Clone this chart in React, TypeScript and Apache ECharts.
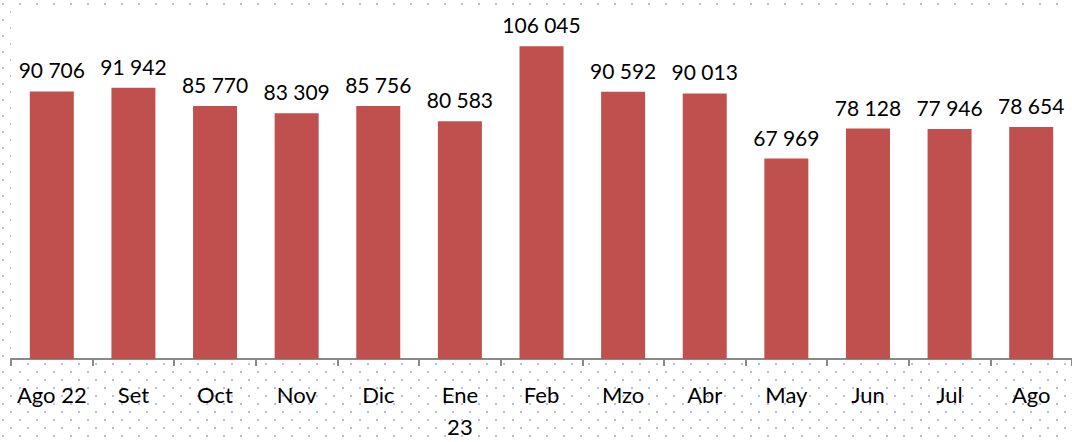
import React, { useEffect, useRef } from "react";
import * as echarts from "echarts";

const categories = ["Ago 22", "Set", "Oct", "Nov", "Dic", "Ene\n23", "Feb", "Mzo", "Abr", "May", "Jun", "Jul", "Ago"];
const values = [90706, 91942, 85770, 83309, 85756, 80583, 106045, 90592, 90013, 67969, 78128, 77946, 78654];

const dotSvg =
  "data:image/svg+xml;utf8," +
  encodeURIComponent(
    '<svg xmlns="http://www.w3.org/2000/svg" width="17" height="16"><rect x="2" y="3" width="2" height="2" fill="#b9c1e8"/><rect x="10" y="11" width="2" height="2" fill="#b9c1e8"/></svg>'
  );

const fmt = (v: number) => String(v).replace(/\B(?=(\d{3})+(?!\d))/g, " ");

export default function App() {
  const ref = useRef<HTMLDivElement>(null);
  useEffect(() => {
    if (!ref.current) return;
    const chart = echarts.init(ref.current, undefined, { renderer: "svg" });
    chart.setOption({
      animation: false,
      backgroundColor: "transparent",
      grid: {
        show: true,
        backgroundColor: "#ffffff",
        borderWidth: 0,
        left: 11,
        right: -6,
        top: 8,
        bottom: 76,
        containLabel: false,
      },
      xAxis: {
        type: "category",
        data: categories,
        axisLine: { lineStyle: { color: "#898989", width: 2 } },
        axisTick: { show: true, length: 7, lineStyle: { color: "#898989", width: 2 } },
        axisLabel: {
          color: "#000",
          fontFamily: "Lato",
          fontSize: 22,
          lineHeight: 32,
          margin: 19,
          interval: 0,
        },
      },
      yAxis: { type: "value", min: 0, max: 119000, show: false, splitLine: { show: false } },
      series: [
        {
          type: "bar",
          data: values,
          barWidth: 44,
          itemStyle: { color: "#C0504D" },
          label: {
            show: true,
            position: "top",
            distance: 11,
            color: "#000",
            fontFamily: "Lato",
            fontSize: 21,
            formatter: (p: any) => fmt(p.value),
          },
        },
      ],
    });
    return () => chart.dispose();
  }, []);
  return (
    <div
      style={{
        position: "absolute",
        left: 0,
        top: 0,
        width: 1072,
        height: 442,
        backgroundColor: "#fff",
        backgroundImage: `url("${dotSvg}")`,
        backgroundRepeat: "repeat",
        backgroundPosition: "0px 0px",
        overflow: "hidden",
      }}
    >
      <div ref={ref} style={{ width: 1072, height: 442 }} />
    </div>
  );
}
